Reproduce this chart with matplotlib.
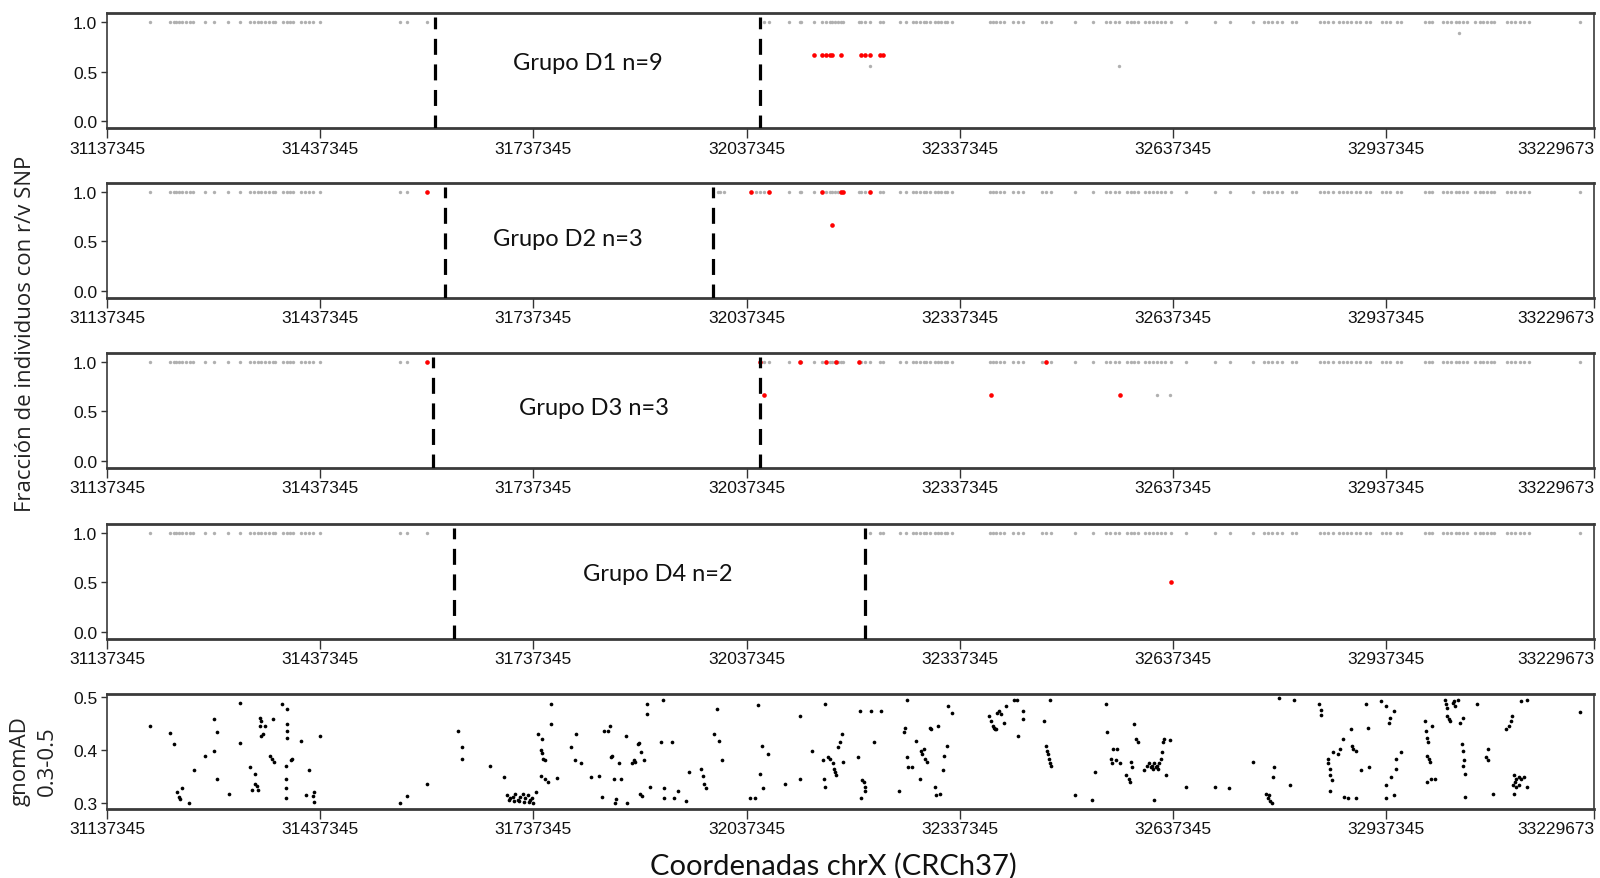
import matplotlib
matplotlib.use("Agg")
import matplotlib.pyplot as plt
from matplotlib import font_manager

# available fonts
fonts = {f.name for f in font_manager.fontManager.ttflist}
tick_font = "Liberation Sans Narrow" if "Liberation Sans Narrow" in fonts else "Liberation Sans"
tick_size = 14.5 if tick_font == "Liberation Sans Narrow" else 12.5
label_font = "Open Sans" if "Open Sans" in fonts else "DejaVu Sans"
title_font = "Lato" if "Lato" in fonts else "DejaVu Sans"

# x range and ticks (chrX, GRCh37)
x_min, x_max = 31137345, 33229673
x_ticks = [31137345, 31437345, 31737345, 32037345, 32337345, 32637345, 32937345, 33229673]

# SNP positions shown as grey marks at 1.0 (kb)
snp_kb = [
    31197.1, 31225.8, 31230.9, 31234.4, 31238.0, 31242.9, 31248.7, 31253.8, 31258.1, 31275.3,
    31288.2, 31307.6, 31324.1, 31338.4, 31343.5, 31349.3, 31354.2, 31359.9, 31365.0, 31370.8,
    31374.3, 31385.1, 31390.0, 31394.4, 31399.5, 31410.2, 31415.9, 31421.7, 31427.5, 31437.4,
    31550.1, 31558.7, 31588.2,
    31997.1, 32000.5, 32005.1, 32044.1, 32050.1, 32055.7, 32061.8, 32068.4, 32097.0, 32112.0,
    32114.4, 32131.7, 32143.9, 32149.6, 32154.2, 32158.0, 32161.7, 32165.5, 32170.7, 32172.9,
    32195.0, 32198.8, 32203.4, 32210.5, 32224.5, 32229.2, 32252.7, 32261.1, 32271.4, 32276.1,
    32280.8, 32286.4, 32290.2, 32294.8, 32301.9, 32306.5, 32311.3, 32315.9, 32319.2, 32326.2,
    32379.2, 32383.9, 32388.7, 32393.3, 32398.9, 32412.0, 32419.0, 32425.7,
    32452.4, 32458.0, 32465.0, 32499.5, 32524.7, 32542.4, 32548.0, 32555.1, 32560.7, 32571.9,
    32577.6, 32581.8, 32587.4, 32597.3, 32602.9, 32608.5, 32614.1, 32619.8, 32625.4, 32633.8,
    32654.9, 32696.8, 32716.8, 32749.1, 32764.6, 32770.2, 32775.9, 32782.9, 32789.9, 32804.0,
    32809.6, 32843.4, 32849.7, 32854.6, 32861.7, 32870.1, 32875.7, 32881.4, 32887.0, 32894.0,
    32901.0, 32908.1, 32913.7, 32930.6, 32936.2, 32943.2, 32951.7, 32958.7, 32991.1, 32996.7,
    33002.3, 33017.8, 33023.4, 33029.0, 33034.7, 33040.3, 33045.9, 33051.5, 33062.8, 33069.8,
    33074.0, 33079.7, 33085.3, 33089.5, 33107.8, 33113.4, 33119.0, 33126.1, 33131.7, 33138.7,
    33209.9,
]

groups = ["Grupo D1 n=9", "Grupo D2 n=3", "Grupo D3 n=3", "Grupo D4 n=2"]
# shared region boundaries per group (kb)
group_bounds_kb = [(31598.2, 32056.1), (31612.6, 31990.1), (31595.4, 32056.1), (31625.4, 32204.5)]

# variants carried by the group (kb, fraction)
red_d1 = [(32131.7, 6/9), (32143.9, 6/9), (32149.6, 6/9), (32154.2, 6/9), (32158.0, 6/9),
          (32170.7, 6/9), (32198.8, 6/9), (32203.4, 6/9), (32210.5, 6/9), (32224.5, 6/9),
          (32229.2, 6/9)]
red_d2 = [(31588.2, 1), (32044.1, 1), (32068.4, 1), (32143.9, 1), (32170.7, 1), (32172.9, 1),
          (32210.5, 1), (32158.0, 2/3)]
red_d3 = [(31588.2, 1), (32055.7, 1), (32112.0, 1), (32149.6, 1), (32163.7, 1), (32195.0, 1),
          (32458.0, 1), (32061.8, 2/3), (32381.1, 2/3), (32562.7, 2/3)]
red_d4 = [(32633.8, 0.5)]
red_points = [red_d1, red_d2, red_d3, red_d4]

# grey SNPs below 1.0
grey_d1 = [(32210.5, 5/9), (32560.7, 5/9), (33040.3, 8/9)]
grey_d3 = [(32614.1, 2/3), (32632.3, 2/3)]
grey_points = [grey_d1, [], grey_d3, []]

# gnomAD SNPs with frequency 0.3-0.5 (kb, AF)
gnomad = [
    (31197.1, 0.446), (31225.8, 0.431), (31232.2, 0.410), (31235.1, 0.319), (31238.0, 0.311),
    (31239.4, 0.307), (31242.3, 0.327), (31252.3, 0.300), (31260.2, 0.362), (31275.3, 0.388),
    (31288.2, 0.458), (31288.2, 0.398), (31292.5, 0.433), (31292.5, 0.344), (31308.3, 0.317),
    (31324.1, 0.488), (31324.1, 0.412), (31338.4, 0.367), (31345.6, 0.355), (31345.6, 0.336),
    (31347.8, 0.332), (31349.2, 0.324), (31342.0, 0.323), (31352.8, 0.461), (31354.2, 0.455),
    (31352.8, 0.445), (31356.4, 0.430), (31354.2, 0.426), (31360.0, 0.446), (31367.1, 0.389),
    (31369.3, 0.383), (31371.4, 0.459), (31372.2, 0.377), (31383.6, 0.486), (31390.8, 0.478),
    (31390.8, 0.448), (31390.8, 0.436), (31390.8, 0.423), (31388.7, 0.369), (31388.7, 0.344),
    (31388.7, 0.327), (31388.7, 0.309), (31395.8, 0.380), (31398.0, 0.383), (31410.2, 0.416),
    (31417.4, 0.314), (31421.0, 0.361), (31426.7, 0.313), (31428.8, 0.319), (31428.8, 0.301),
    (31436.7, 0.426), (31550.1, 0.300), (31558.7, 0.312), (31588.2, 0.335), (31631.2, 0.436),
    (31636.2, 0.405), (31636.2, 0.382), (31675.7, 0.370), (31695.8, 0.349), (31700.8, 0.314),
    (31704.4, 0.308), (31708.0, 0.311), (31711.6, 0.317), (31715.2, 0.305), (31718.8, 0.311),
    (31722.4, 0.317), (31725.9, 0.308), (31729.5, 0.314), (31733.1, 0.305), (31736.7, 0.299),
    (31740.3, 0.319), (31703.0, 0.305), (31710.2, 0.303), (31717.3, 0.302), (31724.5, 0.301),
    (31731.7, 0.301), (31735.3, 0.309), (31743.9, 0.430), (31748.9, 0.421), (31747.5, 0.400),
    (31748.9, 0.394), (31751.0, 0.383), (31753.2, 0.380), (31747.5, 0.350), (31753.2, 0.345),
    (31758.2, 0.339), (31761.8, 0.486), (31761.8, 0.448), (31770.4, 0.347), (31790.5, 0.405),
    (31797.7, 0.430), (31796.3, 0.381), (31804.9, 0.375), (31817.8, 0.349), (31830.0, 0.350),
    (31833.6, 0.311), (31837.2, 0.436), (31842.9, 0.436), (31845.1, 0.446), (31845.8, 0.386),
    (31847.9, 0.389), (31850.1, 0.345), (31853.0, 0.307), (31851.5, 0.299), (31857.3, 0.375),
    (31860.9, 0.345), (31868.0, 0.426), (31869.5, 0.299), (31876.6, 0.374), (31878.8, 0.380),
    (31880.9, 0.377), (31883.8, 0.411), (31885.2, 0.413), (31888.1, 0.395), (31887.4, 0.317),
    (31889.5, 0.313), (31892.4, 0.381), (31896.7, 0.467), (31896.7, 0.486), (31901.7, 0.330),
    (31916.1, 0.414), (31919.7, 0.495), (31921.1, 0.327), (31921.1, 0.308), (31932.6, 0.414),
    (31935.5, 0.308), (31941.2, 0.321), (31952.0, 0.302), (31955.6, 0.358), (31973.5, 0.364),
    (31975.7, 0.350), (31977.1, 0.336), (31980.7, 0.327), (31991.5, 0.430), (31995.1, 0.478),
    (31998.6, 0.417), (32002.2, 0.380), (32041.7, 0.308), (32048.9, 0.308), (32053.9, 0.484),
    (32056.0, 0.355), (32058.2, 0.408), (32061.0, 0.327), (32066.8, 0.392), (32091.9, 0.336),
    (32112.0, 0.464), (32112.0, 0.345), (32147.9, 0.486), (32129.9, 0.398), (32144.3, 0.380),
    (32146.4, 0.345), (32147.9, 0.330), (32151.5, 0.386), (32155.1, 0.383), (32158.6, 0.374),
    (32160.8, 0.364), (32162.2, 0.358), (32163.7, 0.352), (32165.8, 0.405), (32168.0, 0.414),
    (32170.8, 0.430), (32173.0, 0.377), (32194.5, 0.386), (32196.7, 0.473), (32198.1, 0.308),
    (32200.3, 0.342), (32203.1, 0.339), (32203.9, 0.330), (32203.9, 0.321), (32212.5, 0.473),
    (32216.1, 0.414), (32226.8, 0.473), (32251.9, 0.321), (32259.1, 0.433), (32260.5, 0.442),
    (32262.7, 0.495), (32262.7, 0.386), (32264.1, 0.367), (32269.9, 0.367), (32275.6, 0.417),
    (32280.6, 0.345), (32282.1, 0.398), (32284.2, 0.392), (32286.4, 0.402), (32287.8, 0.383),
    (32291.4, 0.377), (32295.0, 0.442), (32297.1, 0.439), (32302.2, 0.330), (32304.3, 0.314),
    (32307.2, 0.445), (32309.3, 0.317), (32312.9, 0.361), (32315.1, 0.389), (32318.7, 0.408),
    (32320.1, 0.483), (32325.8, 0.470), (32378.9, 0.464), (32381.1, 0.455), (32383.3, 0.445),
    (32384.7, 0.442), (32386.1, 0.440), (32388.3, 0.439), (32389.7, 0.470), (32391.9, 0.473),
    (32395.5, 0.467), (32399.0, 0.451), (32402.6, 0.483), (32413.4, 0.495), (32417.0, 0.494),
    (32419.1, 0.426), (32425.6, 0.473), (32425.6, 0.458), (32455.0, 0.455), (32457.9, 0.408),
    (32460.0, 0.398), (32461.5, 0.392), (32462.2, 0.383), (32463.6, 0.374), (32465.1, 0.370),
    (32463.6, 0.495), (32499.5, 0.314), (32523.2, 0.305), (32526.8, 0.358), (32542.6, 0.486),
    (32544.7, 0.433), (32549.7, 0.383), (32551.2, 0.374), (32553.3, 0.402), (32556.9, 0.380),
    (32559.1, 0.402), (32562.7, 0.374), (32571.3, 0.352), (32574.9, 0.345), (32576.3, 0.339),
    (32578.4, 0.377), (32579.9, 0.367), (32582.0, 0.448), (32585.6, 0.420), (32587.8, 0.414),
    (32596.4, 0.361), (32600.0, 0.370), (32603.6, 0.374), (32605.7, 0.367), (32607.1, 0.370),
    (32608.6, 0.364), (32610.7, 0.374), (32612.9, 0.367), (32614.3, 0.369), (32615.8, 0.364),
    (32617.9, 0.374), (32620.1, 0.383), (32621.5, 0.395), (32622.9, 0.414), (32625.1, 0.420),
    (32627.2, 0.352), (32632.3, 0.419), (32610.7, 0.305), (32655.2, 0.330), (32696.8, 0.330),
    (32716.2, 0.328), (32749.2, 0.377), (32768.6, 0.317), (32770.8, 0.308), (32772.2, 0.314),
    (32773.6, 0.302), (32775.8, 0.299), (32779.4, 0.367), (32777.2, 0.349), (32786.5, 0.498),
    (32802.3, 0.334), (32808.1, 0.494), (32842.5, 0.486), (32845.4, 0.476), (32845.4, 0.465),
    (32854.7, 0.383), (32854.7, 0.374), (32858.3, 0.364), (32858.3, 0.352), (32860.5, 0.342),
    (32861.9, 0.395), (32858.3, 0.321), (32869.1, 0.392), (32872.7, 0.402), (32876.2, 0.420),
    (32878.4, 0.311), (32883.4, 0.308), (32887.0, 0.439), (32888.5, 0.408), (32890.6, 0.402),
    (32894.2, 0.398), (32894.2, 0.308), (32901.4, 0.361), (32908.5, 0.486), (32912.1, 0.442),
    (32913.6, 0.367), (32930.1, 0.492), (32937.2, 0.483), (32940.8, 0.451), (32943.0, 0.461),
    (32937.2, 0.333), (32937.2, 0.308), (32944.4, 0.349), (32948.0, 0.314), (32951.6, 0.364),
    (32951.6, 0.383), (32957.3, 0.395), (32948.0, 0.473), (32991.1, 0.455), (32992.5, 0.436),
    (32994.6, 0.423), (32996.1, 0.414), (32994.6, 0.389), (32996.8, 0.383), (32998.2, 0.377),
    (32994.6, 0.339), (32999.7, 0.345), (33001.8, 0.445), (33005.4, 0.345), (33019.8, 0.495),
    (33021.9, 0.486), (33023.4, 0.479), (33023.4, 0.464), (33025.5, 0.458), (33026.9, 0.455),
    (33030.5, 0.489), (33032.7, 0.492), (33034.1, 0.483), (33037.7, 0.495), (33041.3, 0.451),
    (33044.9, 0.461), (33043.5, 0.411), (33044.9, 0.398), (33046.3, 0.380), (33044.9, 0.370),
    (33048.5, 0.355), (33048.5, 0.311), (33065.0, 0.486), (33077.2, 0.386), (33080.8, 0.402),
    (33080.8, 0.380), (33088.0, 0.317), (33105.9, 0.439), (33109.5, 0.445), (33113.1, 0.455),
    (33114.5, 0.464), (33116.7, 0.352), (33120.3, 0.345), (33123.8, 0.349), (33118.8, 0.339),
    (33115.3, 0.333), (33116.7, 0.317), (33120.3, 0.330), (33123.8, 0.333), (33127.4, 0.345),
    (33131.0, 0.349), (33134.6, 0.330), (33127.4, 0.492), (33134.6, 0.494), (33209.9, 0.472),
]

# label placement inside each group panel (kb, y)
label_pos = [(31813.8, 0.59), (31786.3, 0.53), (31822.3, 0.54), (31912.3, 0.59)]


def style_axis(ax, yticks, ylim):
    ax.set_xlim(x_min, x_max)
    ax.set_ylim(*ylim)
    ax.set_xticks(x_ticks)
    ax.set_xticklabels([str(t) for t in x_ticks])
    ax.set_yticks(yticks)
    ax.set_yticklabels(["%.1f" % t for t in yticks])
    for lab in ax.get_xticklabels() + ax.get_yticklabels():
        lab.set_fontfamily(tick_font)
        lab.set_fontsize(tick_size)
        lab.set_color("#111111")
    # last label sits against the right edge of the figure
    ax.get_xticklabels()[-1].set_horizontalalignment("right")
    ax.tick_params(axis="x", length=7, width=1.0, pad=2, color="#333333")
    ax.tick_params(axis="y", length=4, width=1.0, pad=3, color="#333333")
    for side in ["top", "bottom"]:
        ax.spines[side].set_linewidth(2.0)
        ax.spines[side].set_color("#3a3a3a")
    for side in ["left", "right"]:
        ax.spines[side].set_linewidth(1.2)
        ax.spines[side].set_color("#3a3a3a")


fig = plt.figure(figsize=(16, 8.79), dpi=100)
left, width, height = 0.0669, 0.9294, 0.1308
tops = [0.9837, 0.7907, 0.5973, 0.4027, 0.2093]

for i, name in enumerate(groups):
    ax = fig.add_axes([left, tops[i] - height, width, height])
    lo, hi = group_bounds_kb[i]
    gx = [p * 1000 for p in snp_kb if p < lo or p > hi]
    ax.scatter(gx, [1.0] * len(gx), s=6, color="#b0b0b0", linewidths=0, zorder=2)
    if grey_points[i]:
        ax.scatter([p[0] * 1000 for p in grey_points[i]], [p[1] for p in grey_points[i]],
                   s=6, color="#b0b0b0", linewidths=0, zorder=2)
    ax.scatter([p[0] * 1000 for p in red_points[i]], [p[1] for p in red_points[i]],
               s=11, color="#ff0000", linewidths=0, zorder=3)
    for b in (lo, hi):
        ax.plot([b * 1000, b * 1000], [-0.1, 1.05], color="black", lw=2.3,
                linestyle=(0, (5, 3)), zorder=4)
    ax.text(label_pos[i][0] * 1000, label_pos[i][1], name, ha="center", va="center",
            fontsize=17, family=title_font, color="#111111")
    style_axis(ax, [0.0, 0.5, 1.0], (-0.075, 1.09))

# gnomAD panel
ax5 = fig.add_axes([left, tops[4] - height, width, height])
ax5.scatter([p[0] * 1000 for p in gnomad], [p[1] for p in gnomad], s=7, color="black",
            linewidths=0, zorder=3)
style_axis(ax5, [0.3, 0.4, 0.5], (0.2877, 0.5057))

fig.text(0.016, 0.62, "Fracción de individuos con r/v SNP", rotation=90, ha="center",
         va="center", fontsize=16, family=label_font, color="#222222")
fig.text(0.021, 0.134, "gnomAD\n0.3-0.5", rotation=90, ha="center", va="center",
         fontsize=16, family=label_font, color="#222222", linespacing=1.35)
fig.text(0.521, 0.0148, "Coordenadas chrX (CRCh37)", ha="center", va="center",
         fontsize=21, family=title_font, color="#111111")

fig.savefig("out.png", dpi=100)
